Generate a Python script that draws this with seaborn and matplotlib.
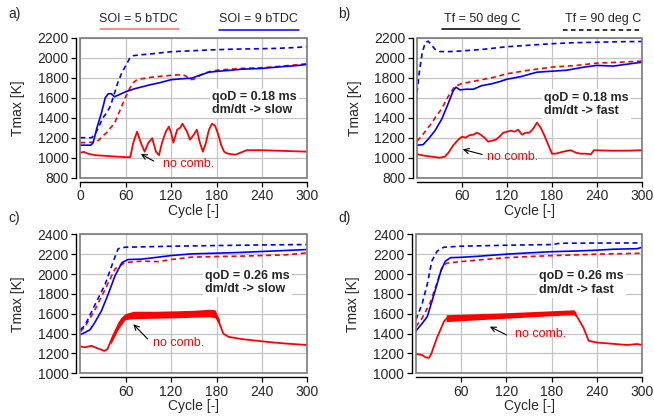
import numpy as np
import pandas as pd
import matplotlib
matplotlib.use("Agg")
import matplotlib.pyplot as plt
import seaborn as sns
from matplotlib.patches import Rectangle
from matplotlib.lines import Line2D

# ---------------- data ----------------
# Panel a
a_bs_x = [0, 14, 17, 22, 28, 33, 37, 41, 45, 50, 60, 72, 90, 105, 120, 135, 147, 160, 170, 183, 200, 213, 240, 266, 285, 300]
a_bs_y = [1125, 1125, 1150, 1300, 1450, 1600, 1640, 1640, 1610, 1625, 1660, 1690, 1725, 1750, 1780, 1790, 1795, 1830, 1855, 1865, 1875, 1885, 1893, 1910, 1920, 1933]
a_bd_x = [0, 15, 20, 25, 30, 35, 40, 45, 50, 55, 60, 65, 70, 80, 90, 120, 150, 169, 200, 213, 240, 258, 280, 300]
a_bd_y = [1200, 1200, 1240, 1320, 1400, 1450, 1520, 1640, 1760, 1850, 1920, 1990, 2020, 2030, 2035, 2060, 2070, 2077, 2085, 2087, 2090, 2093, 2100, 2110]
a_rd_x = [0, 20, 25, 30, 35, 40, 45, 50, 55, 60, 65, 70, 75, 85, 100, 115, 125, 135, 140, 145, 150, 160, 170, 183, 213, 240, 258, 280, 300]
a_rd_y = [1150, 1155, 1180, 1220, 1250, 1300, 1340, 1430, 1520, 1610, 1690, 1750, 1780, 1795, 1810, 1820, 1827, 1830, 1815, 1780, 1785, 1830, 1860, 1877, 1893, 1900, 1910, 1925, 1940]
a_rs_x = [0, 5, 10, 20, 40, 60, 66, 70, 75, 80, 85, 90, 95, 100, 104, 108, 113, 117, 120, 123, 128, 132, 135, 138, 141, 145, 150, 154, 158, 162, 166, 170, 174, 178, 182, 186, 190, 195, 205, 215, 220, 240, 260, 280, 300]
a_rs_y = [1050, 1058, 1040, 1025, 1015, 1005, 1005, 1150, 1260, 1150, 1060, 1150, 1195, 1060, 1025, 1150, 1260, 1310, 1250, 1150, 1280, 1300, 1340, 1300, 1260, 1180, 1230, 1280, 1150, 1060, 1150, 1280, 1340, 1320, 1240, 1130, 1060, 1040, 1030, 1060, 1075, 1075, 1070, 1065, 1060]

# Panel b
b_bs_x = [0, 8, 15, 24, 33, 41, 48, 52, 55, 57, 66, 75, 80, 86, 99, 110, 120, 138, 150, 160, 180, 200, 222, 240, 262, 280, 300]
b_bs_y = [1125, 1130, 1185, 1270, 1385, 1530, 1665, 1705, 1690, 1678, 1685, 1685, 1700, 1720, 1738, 1760, 1785, 1810, 1835, 1855, 1865, 1875, 1905, 1923, 1916, 1935, 1955]
b_bd_x = [0, 3, 7, 11, 15, 19, 24, 30, 40, 59, 90, 120, 150, 180, 210, 240, 270, 300]
b_bd_y = [1650, 1850, 2050, 2150, 2165, 2130, 2085, 2062, 2060, 2067, 2085, 2110, 2125, 2140, 2150, 2155, 2160, 2162]
b_rd_x = [0, 6, 19, 26, 33, 41, 50, 59, 81, 103, 120, 147, 180, 213, 240, 270, 300]
b_rd_y = [1165, 1215, 1340, 1420, 1490, 1605, 1710, 1740, 1772, 1805, 1839, 1873, 1906, 1923, 1946, 1955, 1966]
b_rs_x = [0, 10, 20, 30, 37, 42, 48, 55, 60, 65, 70, 75, 80, 85, 90, 95, 100, 105, 110, 115, 120, 125, 130, 135, 140, 145, 150, 155, 160, 165, 170, 175, 180, 185, 195, 205, 212, 218, 225, 232, 236, 260, 280, 300]
b_rs_y = [1035, 1020, 1010, 1000, 1010, 1050, 1120, 1180, 1210, 1200, 1225, 1230, 1250, 1230, 1200, 1160, 1170, 1180, 1210, 1250, 1260, 1270, 1260, 1280, 1230, 1250, 1250, 1290, 1350, 1300, 1220, 1130, 1040, 1040, 1060, 1075, 1050, 1040, 1040, 1035, 1075, 1070, 1070, 1075]

# Panel c
c_bs_x = [0, 6, 13, 19, 28, 37, 46, 55, 63, 81, 103, 120, 147, 180, 213, 240, 271, 300]
c_bs_y = [1390, 1410, 1440, 1510, 1630, 1800, 1985, 2115, 2146, 2150, 2170, 2186, 2203, 2210, 2218, 2227, 2237, 2247]
c_bd_x = [0, 6, 19, 33, 44, 50, 59, 120, 180, 240, 300]
c_bd_y = [1440, 1480, 1685, 1900, 2136, 2255, 2270, 2280, 2287, 2293, 2297]
c_rd_x = [0, 6, 19, 33, 46, 59, 81, 103, 120, 147, 180, 213, 240, 271, 300]
c_rd_y = [1420, 1468, 1635, 1850, 2053, 2115, 2130, 2125, 2146, 2170, 2176, 2180, 2186, 2193, 2213]
c_rs_x = [0, 6, 15, 21, 27, 32, 36, 40, 44, 50, 55, 59, 65, 80, 100, 120, 140, 160, 175, 180, 184, 189, 196, 213, 231, 249, 271, 300]
c_rs_y = [1270, 1262, 1277, 1257, 1240, 1225, 1245, 1320, 1390, 1480, 1550, 1575, 1590, 1590, 1595, 1595, 1600, 1605, 1610, 1580, 1500, 1400, 1367, 1345, 1330, 1315, 1300, 1285]
c_band_x = [40, 50, 59, 70, 100, 130, 150, 170, 178, 184]
c_band_lo = [1290, 1440, 1540, 1550, 1555, 1560, 1565, 1570, 1560, 1480]
c_band_hi = [1350, 1520, 1600, 1625, 1625, 1630, 1635, 1645, 1640, 1540]

# Panel d
d_bs_x = [0, 8, 15, 24, 33, 39, 46, 59, 81, 120, 147, 180, 213, 240, 262, 293, 300]
d_bs_y = [1427, 1500, 1570, 1795, 2029, 2130, 2165, 2168, 2178, 2200, 2212, 2225, 2232, 2240, 2250, 2255, 2270]
d_bd_x = [0, 8, 15, 21, 28, 37, 59, 120, 180, 191, 240, 300]
d_bd_y = [1540, 1695, 1896, 2130, 2230, 2270, 2280, 2290, 2297, 2310, 2312, 2313]
d_rd_x = [0, 8, 19, 28, 35, 41, 59, 81, 120, 147, 180, 213, 240, 300]
d_rd_y = [1470, 1554, 1712, 1912, 2080, 2110, 2125, 2140, 2165, 2175, 2185, 2193, 2200, 2210]
d_rs_x = [0, 8, 13, 17, 20, 28, 37, 41, 60, 120, 180, 209, 213, 222, 229, 240, 266, 280, 293, 300]
d_rs_y = [1195, 1185, 1160, 1155, 1190, 1360, 1520, 1555, 1562, 1582, 1605, 1615, 1578, 1460, 1327, 1310, 1294, 1285, 1295, 1285]
d_band_x = [40, 60, 120, 180, 209, 212]
d_band_lo = [1520, 1530, 1555, 1580, 1590, 1570]
d_band_hi = [1590, 1595, 1610, 1630, 1640, 1620]

# text
panel_tags = ["a)", "b)", "c)", "d)"]
info_text = ["qoD = 0.18 ms\ndm/dt -> slow", "qoD = 0.18 ms\ndm/dt -> fast",
             "qoD = 0.26 ms\ndm/dt -> slow", "qoD = 0.26 ms\ndm/dt -> fast"]

# ---------------- style ----------------
sns.set_theme(style="white")
plt.rcParams["font.family"] = ["Liberation Sans", "DejaVu Sans"]
plt.rcParams["font.size"] = 9

RED = "#ff0000"
BLUE = "#0000ff"
DASH = (0, (3.0, 2.2))

fig = plt.figure(figsize=(6.54, 4.17), dpi=100)
positions = [
    [0.1228, 0.5739, 0.3471, 0.3357],
    [0.6376, 0.5739, 0.3440, 0.3357],
    [0.1228, 0.1048, 0.3471, 0.3333],
    [0.6360, 0.1048, 0.3461, 0.3333],
]
axes = [fig.add_axes(p) for p in positions]


def line(ax, x, y, color, dashed=False, lw=1.2):
    df = pd.DataFrame({"Cycle": x, "T": y})
    sns.lineplot(data=df, x="Cycle", y="T", ax=ax, color=color, lw=lw,
                 linestyle=DASH if dashed else "-", sort=True, estimator=None, zorder=3)


series = [
    (a_rs_x, a_rs_y, a_rd_x, a_rd_y, a_bs_x, a_bs_y, a_bd_x, a_bd_y),
    (b_rs_x, b_rs_y, b_rd_x, b_rd_y, b_bs_x, b_bs_y, b_bd_x, b_bd_y),
    (c_rs_x, c_rs_y, c_rd_x, c_rd_y, c_bs_x, c_bs_y, c_bd_x, c_bd_y),
    (d_rs_x, d_rs_y, d_rd_x, d_rd_y, d_bs_x, d_bs_y, d_bd_x, d_bd_y),
]
bands = [None, None, (c_band_x, c_band_lo, c_band_hi), (d_band_x, d_band_lo, d_band_hi)]

ylims = [(800, 2200), (800, 2200), (1000, 2400), (1000, 2400)]
xticks_list = [[0, 60, 120, 180, 240, 300], [60, 120, 180, 240, 300],
               [60, 120, 180, 240, 300], [60, 120, 180, 240, 300]]
info_pos = [(174, 1540), (170, 1535), (165, 1915), (163, 1908)]
nocomb_pos = [(109, 938), (94, 1009), (96, 1308), (131, 1396)]
arrow_tail = [(97, 966), (87, 1032), (89, 1346), (120, 1386)]
arrow_head = [(80, 1037), (61, 1083), (70, 1494), (98, 1470)]

for i, ax in enumerate(axes):
    rs_x, rs_y, rd_x, rd_y, bs_x, bs_y, bd_x, bd_y = series[i]
    if bands[i] is not None:
        bx, blo, bhi = bands[i]
        ax.fill_between(bx, blo, bhi, color=RED, lw=0, zorder=3)
    line(ax, rs_x, rs_y, RED, lw=1.3)
    line(ax, rd_x, rd_y, RED, dashed=True)
    line(ax, bs_x, bs_y, BLUE)
    line(ax, bd_x, bd_y, BLUE, dashed=True)

    ax.set_xlim(0, 300)
    ax.set_ylim(*ylims[i])
    ax.set_xticks(xticks_list[i])
    ax.set_yticks(np.arange(ylims[i][0], ylims[i][1] + 1, 200))
    ax.grid(True, color="#c4c4c4", lw=0.9, zorder=0)
    ax.set_axisbelow(True)
    ax.tick_params(axis="both", direction="out", length=3.5, width=0.9, color="black",
                   labelsize=10, pad=2, left=True, bottom=True)
    sns.despine(ax=ax, offset=3)
    for s in ("left", "bottom"):
        ax.spines[s].set_color("black")
        ax.spines[s].set_linewidth(1.0)
    ax.add_patch(Rectangle((0, 0), 1, 1, transform=ax.transAxes, fill=False,
                           edgecolor="#7a7a7a", lw=1.2, clip_on=False, zorder=5))
    ax.set_xlabel("Cycle [-]", fontsize=10)
    ax.set_ylabel("Tmax [K]", fontsize=10)
    ax.xaxis.set_label_coords(0.5, -0.185)
    ax.yaxis.set_label_coords(-0.245, 0.5)

    ax.text(info_pos[i][0], info_pos[i][1], info_text[i], fontsize=9, fontweight="bold",
            ha="left", va="center", linespacing=1.15, zorder=6,
            bbox=dict(facecolor="white", edgecolor="none", pad=1.5))
    ax.text(nocomb_pos[i][0], nocomb_pos[i][1], "no comb.", color=RED, fontsize=9,
            ha="left", va="center", zorder=6)
    ax.annotate("", xy=arrow_head[i], xytext=arrow_tail[i],
                arrowprops=dict(arrowstyle="->", color="black", lw=0.8, shrinkA=0, shrinkB=0),
                zorder=6)

# panel tags
tag_pos = [(8, 14), (338, 14), (8, 218), (338, 218)]
for t, (px, py) in zip(panel_tags, tag_pos):
    fig.text(px / 654, 1 - py / 417, t, fontsize=10, ha="left", va="center")

# legend-like labels
def leg(cx, text, color, dashed, x0, x1, ly):
    fig.text(cx / 654, 1 - 19 / 417, text, fontsize=9, ha="center", va="center")
    fig.add_artist(Line2D([x0 / 654, x1 / 654], [1 - ly / 417, 1 - ly / 417],
                          color=color, lw=1.1, linestyle=DASH if dashed else "-",
                          transform=fig.transFigure))

leg(138, "SOI = 5 bTDC", "#ff6b6b", False, 100, 179, 29)
leg(258, "SOI = 9 bTDC", BLUE, False, 219, 299, 30)
leg(482, "Tf = 50 deg C", "black", False, 442, 520, 29)
leg(603, "Tf = 90 deg C", "black", True, 563, 642, 30)

fig.savefig("out.png", dpi=100)
